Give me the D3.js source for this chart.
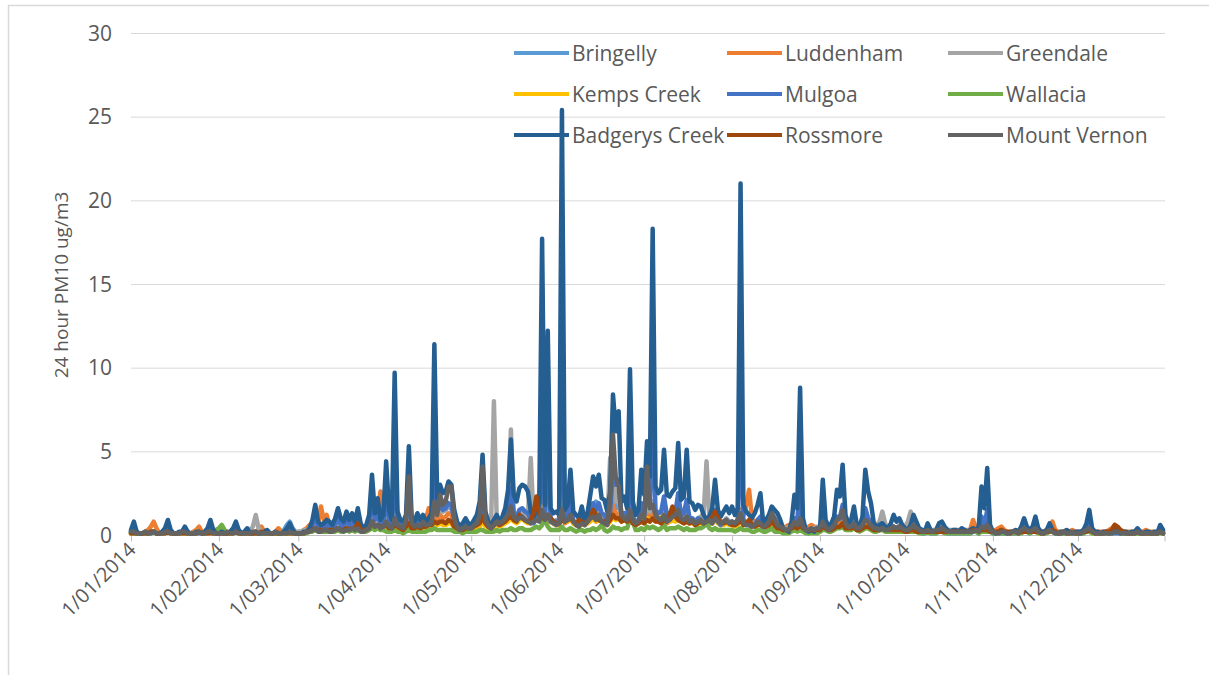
<!DOCTYPE html>
<html>
<head>
<meta charset="utf-8">
<script src="https://cdn.jsdelivr.net/npm/d3@7"></script>
<style>
  body { margin: 0; background: #fff; }
  svg text { font-family: "Open Sans", sans-serif; fill: #595959; }
</style>
</head>
<body>
<svg id="chart" width="1209" height="675"></svg>
<script>
// Daily 24 hour PM10 (ug/m3), 2014 — one row per month (Jan..Dec)
const stations = ["Bringelly", "Luddenham", "Greendale", "Kemps Creek", "Mulgoa",
                  "Wallacia", "Badgerys Creek", "Rossmore", "Mount Vernon"];
const colours = ["#5B9BD5", "#ED7D31", "#A5A5A5", "#FFC000", "#4472C4",
                 "#70AD47", "#255E91", "#9E480E", "#636363"];
const monthLabels = ["1/01/2014", "1/02/2014", "1/03/2014", "1/04/2014", "1/05/2014", "1/06/2014",
                     "1/07/2014", "1/08/2014", "1/09/2014", "1/10/2014", "1/11/2014", "1/12/2014"];
const yTicks = [0, 5, 10, 15, 20, 25, 30];

const bringelly = [
  [0.2,0.3,0.1,0.1,0.1,0.1,0.1,0.2,0.2,0.1,0.1,0.1,0.2,0.4,0.2,0.1,0.1,0.1,0.2,0.3,0.1,0.1,0.1,0.1,0.2,0.1,0.1,0.2,0.4,0.2,0.1],
  [0.1,0.1,0.1,0.1,0.2,0.3,0.5,0.2,0.1,0.1,0.2,0.1,0.1,0.1,0.1,0.1,0.1,0.2,0.1,0.1,0.1,0.1,0.2,0.3,0.6,0.8,0.4,0.2],
  [0.1,0.1,0.2,0.2,0.3,0.6,1.0,0.5,0.4,0.5,0.6,0.5,0.4,0.6,0.9,0.6,0.5,0.8,0.6,0.8,0.5,0.9,0.4,0.3,0.4,0.7,1.8,0.8,1.2,0.7,0.8],
  [1.8,0.8,0.6,2.0,0.7,0.5,0.5,0.7,1.8,0.6,0.5,0.7,0.6,0.8,0.6,0.7,0.8,2.4,1.2,1.6,1.4,1.5,1.7,1.6,0.8,0.4,0.3,0.4,0.5,0.4],
  [0.4,0.5,0.6,0.9,1.8,0.7,0.5,0.4,0.6,0.7,0.6,0.7,0.9,1.2,1.8,1.0,0.9,1.2,1.3,1.1,0.8,0.7,0.9,1.0,0.9,2.5,0.9,2.0,0.8,0.7,0.7],
  [0.7,2.5,0.8,0.9,1.4,0.7,0.6,0.5,0.8,0.6,0.8,1.2,1.5,2.0,1.5,1.2,1.0,0.7,1.3,2.2,1.6,1.8,1.0,1.1,0.8,2.0,0.9,0.7,0.8,1.3],
  [0.9,1.6,1.1,2.0,1.0,0.9,0.9,1.7,0.8,0.9,1.0,1.3,1.1,0.9,0.8,1.1,0.7,0.8,0.7,0.8,0.8,0.7,0.9,0.8,0.7,1.1,0.8,0.6,0.7,0.8,0.7],
  [0.7,0.6,0.8,1.5,0.7,0.6,0.6,0.5,0.6,0.8,0.7,0.5,0.6,0.7,1.0,0.8,0.5,0.4,0.3,0.3,0.3,0.5,0.8,0.6,1.0,0.5,0.3,0.2,0.3,0.3,0.3],
  [0.3,0.8,0.4,0.3,0.3,0.5,0.8,0.7,1.0,0.6,0.4,0.4,0.6,0.4,0.3,0.5,0.8,0.6,0.5,0.3,0.3,0.3,0.4,0.3,0.3,0.3,0.4,0.3,0.4,0.3],
  [0.2,0.2,0.3,0.4,0.3,0.2,0.2,0.2,0.2,0.2,0.2,0.2,0.2,0.3,0.2,0.2,0.2,0.2,0.2,0.2,0.2,0.2,0.2,0.2,0.3,0.3,0.2,0.6,0.8,0.9,0.3],
  [0.2,0.1,0.1,0.2,0.1,0.1,0.1,0.2,0.2,0.1,0.2,0.3,0.3,0.2,0.3,0.4,0.2,0.1,0.1,0.3,0.4,0.2,0.1,0.1,0.1,0.2,0.1,0.1,0.2,0.1],
  [0.1,0.1,0.2,0.4,0.6,0.2,0.1,0.1,0.1,0.1,0.1,0.1,0.1,0.2,0.2,0.1,0.1,0.1,0.1,0.1,0.1,0.2,0.1,0.1,0.1,0.1,0.1,0.1,0.1,0.2,0.1]
];

const luddenham = [
  [0.1,0.2,0.1,0.1,0.1,0.2,0.3,0.5,0.8,0.4,0.1,0.1,0.2,0.4,0.2,0.1,0.1,0.1,0.2,0.2,0.1,0.1,0.2,0.3,0.5,0.2,0.1,0.1,0.2,0.1,0.1],
  [0.2,0.5,0.2,0.1,0.1,0.2,0.2,0.1,0.1,0.1,0.1,0.1,0.2,0.2,0.3,0.5,0.2,0.1,0.1,0.1,0.2,0.4,0.2,0.1,0.1,0.1,0.2,0.1],
  [0.2,0.2,0.3,0.4,0.6,0.5,0.9,0.7,1.7,0.9,1.2,0.6,0.5,0.6,0.9,0.7,0.6,0.8,0.6,0.7,0.6,0.8,0.5,0.4,0.5,0.8,1.5,0.9,1.4,2.6,1.0],
  [1.2,0.8,0.6,1.0,0.7,0.6,0.5,0.7,1.3,0.6,0.5,0.7,0.6,0.8,0.9,1.6,0.8,1.5,0.9,1.2,1.0,1.1,1.3,1.2,0.7,0.4,0.3,0.4,0.6,0.5],
  [0.4,0.5,0.6,0.9,1.6,0.7,0.5,0.4,0.7,0.8,0.6,0.7,0.8,1.0,1.4,0.9,0.8,1.0,1.1,0.9,0.8,0.7,0.9,1.1,0.9,1.3,0.9,1.0,0.8,0.7,0.6],
  [0.6,1.2,0.7,0.8,1.3,0.7,0.6,0.5,0.7,0.6,0.7,0.9,1.0,0.8,1.0,0.8,0.7,0.6,1.2,1.8,1.2,1.3,0.9,1.0,0.8,1.4,0.8,0.6,0.7,1.0],
  [0.8,1.4,0.9,1.5,0.9,0.8,0.8,1.0,0.7,0.8,0.9,1.0,1.2,0.8,0.8,1.0,0.7,0.8,0.6,0.7,0.8,0.7,0.9,0.8,0.7,1.0,0.8,0.6,0.7,0.8,0.7],
  [0.8,0.7,0.9,1.5,1.2,1.8,2.7,1.0,0.7,0.8,0.9,0.6,0.6,0.8,1.2,0.9,0.6,0.5,0.4,0.5,0.6,0.4,0.7,0.6,0.9,0.5,0.4,0.5,0.6,0.5,0.4],
  [0.4,0.7,0.5,0.4,0.4,0.6,0.8,0.8,1.0,0.6,0.5,0.5,0.7,0.5,0.4,0.6,0.8,0.7,0.5,0.4,0.5,0.6,0.7,0.5,0.4,0.4,0.5,0.4,0.5,0.4],
  [0.2,0.2,0.3,0.4,0.3,0.2,0.2,0.2,0.2,0.2,0.2,0.2,0.2,0.3,0.2,0.2,0.2,0.2,0.2,0.2,0.2,0.2,0.2,0.3,0.9,0.4,0.3,0.3,0.5,0.4,0.3],
  [0.2,0.3,0.4,0.5,0.3,0.2,0.2,0.2,0.2,0.2,0.2,0.3,0.3,0.2,0.3,0.4,0.3,0.2,0.2,0.3,0.4,0.8,0.3,0.2,0.2,0.2,0.2,0.2,0.3,0.2],
  [0.2,0.2,0.3,0.4,0.5,0.3,0.2,0.2,0.2,0.2,0.2,0.3,0.4,0.6,0.4,0.3,0.2,0.2,0.2,0.2,0.2,0.2,0.2,0.2,0.3,0.2,0.2,0.2,0.2,0.3,0.2]
];

const greendale = [
  [0.1,0.2,0.1,0.1,0.1,0.1,0.1,0.2,0.2,0.1,0.1,0.1,0.2,0.3,0.1,0.1,0.1,0.1,0.2,0.2,0.1,0.1,0.1,0.2,0.2,0.1,0.1,0.2,0.3,0.1,0.1],
  [0.1,0.1,0.1,0.2,0.1,0.2,0.3,0.1,0.1,0.1,0.2,0.3,0.5,1.2,0.4,0.2,0.1,0.1,0.1,0.1,0.2,0.1,0.1,0.2,0.2,0.3,0.2,0.1],
  [0.2,0.2,0.3,0.3,0.4,0.6,0.9,0.5,0.4,0.5,0.6,0.5,0.5,0.6,0.8,0.6,0.5,0.7,0.6,0.7,0.5,0.8,0.5,0.4,0.5,0.7,1.5,0.8,1.0,0.7,0.8],
  [1.2,0.7,0.6,2.5,0.8,0.6,0.6,0.8,2.0,0.7,0.6,0.7,0.6,0.9,0.7,0.8,0.9,2.5,1.2,1.6,1.4,1.5,1.8,1.7,0.9,0.6,0.4,0.5,0.6,0.5],
  [0.5,0.7,0.8,1.0,2.5,0.9,0.6,0.5,8.0,0.9,0.7,0.8,1.0,1.4,6.3,1.2,1.0,1.3,1.4,1.2,1.0,4.6,0.9,1.0,1.1,2.5,3.2,2.0,1.0,0.8,0.9],
  [0.8,1.4,0.9,1.0,1.6,0.9,0.7,0.6,0.8,0.7,0.9,1.1,1.2,1.0,1.3,0.9,0.8,0.7,4.6,3.5,2.0,2.2,1.0,1.2,0.9,2.0,1.0,0.8,0.9,1.5],
  [1.0,2.0,1.4,2.0,1.1,1.0,0.9,1.5,0.8,0.9,1.0,1.3,1.6,1.0,0.9,1.3,0.8,0.9,0.8,1.0,1.1,1.3,4.4,1.0,0.8,1.2,0.9,0.7,0.8,1.0,0.8],
  [0.8,0.7,0.9,1.4,0.8,0.7,0.6,0.6,0.7,0.9,0.8,0.6,0.7,0.9,1.4,1.0,0.7,0.5,0.4,0.4,0.3,0.6,0.9,0.7,1.2,0.6,0.4,0.3,0.4,0.4,0.5],
  [0.4,0.9,0.5,0.4,0.5,0.7,1.0,1.0,1.3,0.8,0.6,0.6,0.8,0.5,0.5,0.7,1.0,0.9,0.7,0.5,0.6,0.8,1.4,0.7,0.4,0.4,0.5,0.4,0.6,0.5],
  [0.5,0.8,1.4,0.7,0.5,0.3,0.3,0.3,0.4,0.3,0.3,0.3,0.4,0.5,0.4,0.3,0.3,0.3,0.3,0.3,0.3,0.3,0.3,0.3,0.3,0.3,0.3,0.4,0.4,0.7,0.4],
  [0.2,0.1,0.1,0.2,0.1,0.1,0.1,0.2,0.2,0.1,0.2,0.4,0.3,0.2,0.3,0.4,0.2,0.1,0.1,0.2,0.3,0.2,0.1,0.1,0.1,0.2,0.1,0.1,0.2,0.1],
  [0.1,0.1,0.2,0.3,0.4,0.2,0.1,0.1,0.1,0.1,0.1,0.1,0.1,0.2,0.2,0.1,0.1,0.1,0.1,0.1,0.1,0.2,0.1,0.1,0.1,0.1,0.1,0.1,0.1,0.2,0.1]
];

const kempsCreek = [
  [0.1,0.2,0.1,0.1,0.1,0.1,0.1,0.2,0.2,0.1,0.1,0.1,0.2,0.2,0.1,0.1,0.1,0.1,0.2,0.2,0.1,0.1,0.1,0.2,0.2,0.1,0.1,0.2,0.2,0.1,0.1],
  [0.1,0.1,0.1,0.1,0.1,0.1,0.2,0.1,0.1,0.1,0.1,0.1,0.1,0.1,0.1,0.1,0.1,0.1,0.1,0.1,0.1,0.1,0.1,0.1,0.1,0.2,0.1,0.1],
  [0.1,0.1,0.1,0.2,0.2,0.3,0.4,0.3,0.3,0.3,0.3,0.3,0.3,0.3,0.4,0.3,0.3,0.4,0.3,0.4,0.3,0.4,0.3,0.3,0.3,0.4,0.6,0.4,0.5,0.5,0.4],
  [0.5,0.4,0.3,0.6,0.4,0.3,0.3,0.4,0.6,0.3,0.3,0.4,0.3,0.4,0.4,0.5,0.5,0.7,0.6,0.7,0.6,0.6,0.7,0.7,0.4,0.3,0.3,0.3,0.3,0.3],
  [0.3,0.4,0.4,0.5,0.8,0.5,0.4,0.3,0.5,0.6,0.5,0.6,0.7,0.8,1.0,0.8,0.7,0.9,1.0,0.8,0.7,0.8,0.9,1.2,1.3,1.7,1.5,1.0,0.8,0.7,0.6],
  [0.8,3.0,0.8,0.8,1.0,0.7,0.6,0.7,0.7,0.6,0.7,0.8,1.0,0.8,0.9,0.8,0.7,0.6,0.8,1.1,0.9,1.0,0.8,1.0,0.9,2.3,0.8,0.6,0.7,0.9],
  [0.7,1.0,0.8,1.0,0.8,0.8,0.9,1.3,0.8,0.8,0.9,0.8,0.9,0.8,0.7,0.8,0.7,0.7,0.6,0.7,0.7,0.6,0.8,0.7,0.7,0.9,0.7,0.6,0.6,0.7,0.6],
  [0.6,0.5,0.6,0.8,0.6,0.6,0.7,0.5,0.5,0.6,0.6,0.4,0.5,0.6,0.7,0.5,0.4,0.3,0.3,0.3,0.3,0.4,0.5,0.4,0.6,0.4,0.3,0.3,0.3,0.3,0.3],
  [0.3,0.4,0.3,0.3,0.3,0.4,0.5,0.5,0.6,0.4,0.3,0.4,0.4,0.3,0.3,0.4,0.5,0.4,0.4,0.3,0.3,0.3,0.4,0.3,0.3,0.3,0.3,0.3,0.3,0.3],
  [0.2,0.2,0.2,0.3,0.2,0.2,0.2,0.2,0.2,0.2,0.2,0.2,0.2,0.2,0.2,0.2,0.2,0.2,0.2,0.2,0.2,0.2,0.2,0.2,0.2,0.2,0.3,0.4,0.5,0.3,0.2],
  [0.2,0.1,0.1,0.2,0.1,0.1,0.1,0.2,0.2,0.1,0.2,0.2,0.2,0.2,0.2,0.2,0.1,0.1,0.1,0.2,0.2,0.2,0.1,0.1,0.1,0.2,0.1,0.1,0.2,0.1],
  [0.1,0.1,0.2,0.2,0.2,0.1,0.1,0.1,0.1,0.1,0.1,0.1,0.1,0.2,0.2,0.1,0.1,0.1,0.1,0.1,0.1,0.1,0.1,0.1,0.1,0.1,0.1,0.1,0.1,0.2,0.1]
];

const mulgoa = [
  [0.2,0.4,0.1,0.1,0.1,0.1,0.1,0.1,0.2,0.1,0.1,0.1,0.2,0.5,0.2,0.1,0.1,0.1,0.2,0.3,0.1,0.1,0.1,0.1,0.1,0.1,0.1,0.2,0.5,0.2,0.1],
  [0.1,0.1,0.1,0.1,0.2,0.3,0.5,0.2,0.1,0.1,0.2,0.1,0.1,0.1,0.1,0.1,0.1,0.2,0.1,0.1,0.1,0.1,0.1,0.2,0.3,0.4,0.2,0.1],
  [0.1,0.1,0.1,0.2,0.3,0.6,1.1,0.5,0.4,0.5,0.6,0.5,0.4,0.6,1.0,0.6,0.5,0.9,0.6,0.8,0.5,1.0,0.4,0.3,0.4,0.8,2.2,0.9,1.4,0.6,0.8],
  [2.4,0.9,0.6,4.5,0.8,0.6,0.5,0.7,2.8,0.6,0.5,0.8,0.7,0.8,0.6,0.7,0.9,5.2,1.4,1.8,1.5,1.6,1.9,1.8,0.9,0.4,0.3,0.5,0.6,0.4],
  [0.4,0.6,0.7,1.1,2.6,0.8,0.5,0.4,0.6,0.7,0.6,0.7,0.9,1.4,2.8,1.3,1.1,1.5,1.6,1.4,1.3,0.9,0.7,1.0,1.2,7.5,1.1,5.6,1.0,0.8,0.8],
  [0.8,9.5,1.0,1.1,2.0,0.8,0.7,0.6,1.0,0.6,0.8,1.3,1.9,1.5,1.9,1.3,1.2,0.8,1.4,4.0,3.0,3.3,1.1,1.3,0.9,4.2,1.1,0.7,0.8,1.9],
  [1.2,2.5,1.7,7.0,1.5,1.3,1.4,2.3,1.2,1.3,1.3,1.3,2.5,1.2,1.3,2.1,1.0,1.0,0.8,1.0,0.9,0.7,0.6,0.7,0.9,1.5,0.8,0.6,0.8,0.9,0.7],
  [0.8,0.6,0.8,8.0,0.9,0.7,0.6,0.5,0.6,0.9,1.1,0.4,0.5,0.7,0.9,0.8,0.6,0.4,0.2,0.2,0.2,0.4,1.0,0.8,3.5,0.5,0.2,0.1,0.2,0.2,0.2],
  [0.2,1.4,0.5,0.3,0.4,0.5,1.1,1.0,1.8,0.6,0.4,0.4,0.7,0.3,0.3,0.5,1.6,1.0,0.8,0.4,0.3,0.3,0.4,0.3,0.3,0.3,0.5,0.4,0.5,0.3],
  [0.2,0.2,0.3,0.5,0.4,0.2,0.1,0.1,0.3,0.1,0.1,0.1,0.3,0.4,0.2,0.1,0.1,0.1,0.1,0.1,0.1,0.1,0.1,0.1,0.2,0.2,0.1,1.1,0.5,1.5,0.2],
  [0.1,0.1,0.1,0.1,0.1,0.1,0.1,0.1,0.1,0.2,0.3,0.4,0.2,0.1,0.2,0.4,0.2,0.1,0.1,0.2,0.3,0.2,0.1,0.1,0.1,0.1,0.1,0.1,0.1,0.1],
  [0.1,0.1,0.1,0.3,0.6,0.2,0.1,0.1,0.1,0.1,0.1,0.1,0.1,0.1,0.1,0.1,0.1,0.1,0.1,0.1,0.1,0.1,0.1,0.1,0.1,0.1,0.1,0.1,0.1,0.2,0.1]
];

const wallacia = [
  [0.1,0.1,0.1,0.1,0.1,0.1,0.1,0.1,0.2,0.1,0.1,0.1,0.1,0.2,0.1,0.1,0.1,0.1,0.1,0.1,0.1,0.1,0.1,0.1,0.2,0.1,0.1,0.1,0.2,0.2,0.3],
  [0.4,0.6,0.3,0.1,0.1,0.1,0.2,0.1,0.1,0.1,0.1,0.1,0.1,0.1,0.1,0.1,0.1,0.1,0.1,0.1,0.1,0.1,0.1,0.1,0.1,0.1,0.1,0.1],
  [0.1,0.1,0.1,0.1,0.2,0.2,0.3,0.2,0.2,0.2,0.2,0.2,0.2,0.2,0.3,0.2,0.2,0.3,0.2,0.3,0.2,0.3,0.2,0.2,0.2,0.3,0.4,0.3,0.4,0.3,0.3],
  [0.2,0.2,0.2,0.3,0.2,0.2,0.1,0.2,0.3,0.2,0.2,0.2,0.2,0.2,0.2,0.3,0.3,0.4,0.3,0.3,0.3,0.3,0.3,0.3,0.2,0.2,0.2,0.1,0.2,0.2],
  [0.2,0.2,0.2,0.3,0.3,0.2,0.2,0.2,0.2,0.3,0.2,0.3,0.3,0.3,0.4,0.3,0.3,0.4,0.4,0.3,0.3,0.3,0.4,0.5,0.4,0.6,0.9,0.5,0.3,0.3,0.3],
  [0.3,0.5,0.3,0.3,0.4,0.3,0.2,0.3,0.3,0.2,0.3,0.3,0.4,0.3,0.4,0.6,0.3,0.2,0.3,0.5,0.4,0.4,0.3,0.4,0.4,1.0,0.8,0.3,0.3,0.4],
  [0.3,0.5,0.4,0.5,0.4,0.3,0.4,0.6,0.3,0.4,0.4,0.4,0.5,0.4,0.3,0.4,0.3,0.3,0.3,0.4,0.4,0.5,0.8,0.4,0.3,0.4,0.3,0.3,0.3,0.3,0.3],
  [0.3,0.2,0.3,0.4,0.3,0.3,0.3,0.2,0.2,0.3,0.3,0.2,0.2,0.3,0.4,0.2,0.2,0.2,0.1,0.1,0.1,0.2,0.3,0.2,0.3,0.2,0.1,0.1,0.1,0.1,0.1],
  [0.2,0.3,0.3,0.2,0.2,0.3,0.4,0.4,0.5,0.3,0.3,0.3,0.4,0.3,0.2,0.3,0.4,0.4,0.3,0.2,0.2,0.3,0.3,0.2,0.2,0.2,0.2,0.2,0.2,0.2],
  [0.2,0.2,0.2,0.2,0.2,0.1,0.1,0.1,0.2,0.1,0.1,0.1,0.2,0.2,0.1,0.1,0.1,0.1,0.1,0.1,0.1,0.1,0.1,0.1,0.2,0.2,0.1,0.2,0.2,0.2,0.2],
  [0.1,0.1,0.1,0.1,0.1,0.1,0.1,0.1,0.1,0.1,0.1,0.2,0.2,0.1,0.2,0.2,0.1,0.1,0.1,0.1,0.2,0.2,0.1,0.1,0.1,0.1,0.1,0.1,0.1,0.1],
  [0.1,0.1,0.1,0.2,0.2,0.1,0.1,0.1,0.1,0.1,0.1,0.1,0.2,0.3,0.2,0.1,0.1,0.1,0.1,0.1,0.1,0.1,0.1,0.1,0.1,0.1,0.1,0.1,0.1,0.1,0.1]
];

const badgerysCreek = [
  [0.3,0.8,0.2,0.1,0.1,0.2,0.1,0.2,0.2,0.1,0.1,0.2,0.4,0.9,0.3,0.1,0.1,0.2,0.2,0.5,0.2,0.1,0.1,0.2,0.2,0.1,0.2,0.4,0.9,0.3,0.1],
  [0.1,0.2,0.1,0.1,0.2,0.4,0.8,0.3,0.1,0.2,0.4,0.1,0.1,0.2,0.1,0.1,0.2,0.3,0.1,0.1,0.2,0.1,0.1,0.2,0.4,0.7,0.3,0.1],
  [0.1,0.1,0.2,0.2,0.4,0.9,1.8,0.8,0.6,0.7,0.9,0.8,0.6,1.0,1.6,1.0,0.8,1.4,0.9,1.3,0.8,1.6,0.7,0.4,0.6,1.2,3.6,1.3,2.2,0.9,1.2],
  [4.4,1.5,0.9,9.7,1.4,0.9,0.8,1.2,5.3,1.0,0.8,1.3,0.9,1.2,0.8,1.0,1.3,11.4,2.2,3.0,2.5,2.6,3.2,3.0,1.5,0.8,0.5,0.7,1.0,0.7],
  [0.6,0.9,1.2,2.0,4.8,1.4,0.8,0.6,0.9,1.2,0.8,1.1,1.6,2.7,5.7,2.4,2.0,2.8,3.0,2.9,2.6,1.4,1.1,1.5,1.9,17.7,1.8,12.2,1.6,1.3,1.4],
  [1.2,25.4,1.5,1.8,3.9,1.4,1.2,1.0,1.7,0.9,1.3,2.4,3.5,2.9,3.6,2.2,2.1,1.4,2.6,8.4,6.2,7.4,2.0,2.3,1.6,9.9,2.0,1.2,1.5,3.9],
  [2.4,5.6,3.5,18.3,2.9,2.5,2.7,5.1,2.4,2.3,2.6,2.8,5.5,2.1,2.3,5.1,2.0,1.9,1.5,1.8,1.7,1.2,0.9,1.1,1.6,3.3,1.5,1.1,1.4,1.7,1.3],
  [1.7,1.2,1.6,21.0,1.8,1.4,1.2,1.0,1.3,1.8,2.5,0.7,0.9,1.2,1.7,1.5,1.3,0.9,0.4,0.3,0.2,0.8,2.4,1.6,8.8,1.0,0.3,0.2,0.3,0.2,0.4],
  [0.3,3.3,0.9,0.5,0.7,1.1,2.7,2.3,4.2,1.2,0.7,0.9,1.7,0.6,0.5,1.1,3.9,2.6,1.9,0.7,0.5,0.6,0.7,0.5,0.4,0.7,1.2,0.8,1.0,0.6],
  [0.4,0.3,0.6,1.2,0.8,0.4,0.3,0.2,0.7,0.3,0.2,0.3,0.7,0.8,0.5,0.3,0.2,0.3,0.3,0.2,0.4,0.3,0.2,0.3,0.4,0.3,0.5,2.9,1.6,4.0,0.6],
  [0.2,0.1,0.2,0.3,0.2,0.1,0.2,0.2,0.3,0.2,0.5,1.0,0.5,0.3,0.5,1.1,0.4,0.2,0.2,0.3,0.7,0.3,0.2,0.1,0.2,0.2,0.3,0.2,0.1,0.2],
  [0.2,0.2,0.3,0.7,1.5,0.4,0.2,0.2,0.1,0.2,0.2,0.1,0.2,0.3,0.2,0.1,0.2,0.2,0.1,0.2,0.2,0.4,0.2,0.1,0.2,0.2,0.1,0.2,0.1,0.6,0.3]
];

const rossmore = [
  [0.1,0.1,0.1,0.1,0.1,0.1,0.1,0.2,0.2,0.1,0.1,0.1,0.1,0.2,0.1,0.1,0.1,0.1,0.1,0.1,0.1,0.1,0.1,0.1,0.2,0.1,0.1,0.1,0.1,0.1,0.1],
  [0.1,0.1,0.1,0.1,0.1,0.1,0.2,0.1,0.1,0.1,0.1,0.1,0.1,0.1,0.1,0.2,0.1,0.1,0.1,0.1,0.1,0.1,0.1,0.1,0.1,0.1,0.1,0.1],
  [0.1,0.1,0.1,0.2,0.2,0.3,0.4,0.3,0.3,0.3,0.3,0.3,0.3,0.3,0.4,0.3,0.3,0.4,0.3,0.4,0.4,0.7,0.3,0.3,0.3,0.4,0.8,0.5,0.6,0.5,0.5],
  [0.6,0.4,0.4,0.6,0.5,0.4,0.3,0.5,0.7,0.4,0.4,0.5,0.4,0.5,0.5,0.6,0.6,0.8,0.7,0.8,0.8,0.7,0.9,0.8,0.5,0.4,0.3,0.3,0.4,0.4],
  [0.4,0.5,0.6,0.7,1.1,0.7,0.5,0.4,0.6,0.8,0.6,0.7,0.8,1.0,1.1,0.9,0.8,1.2,1.0,0.9,0.8,0.9,1.3,2.3,1.2,1.0,1.1,1.2,1.0,0.8,0.7],
  [0.7,0.9,0.8,0.9,1.0,0.8,0.7,0.9,0.8,0.7,0.8,1.0,1.5,1.2,0.9,0.8,0.8,0.7,0.9,1.2,1.0,1.0,0.8,0.9,0.8,1.0,0.7,0.6,0.7,0.8],
  [0.7,0.9,0.8,1.0,0.8,0.8,0.7,0.9,0.8,1.2,1.7,1.1,0.9,0.8,0.7,0.8,0.7,0.8,0.6,0.7,0.8,0.7,0.8,0.9,1.1,1.4,1.0,0.8,0.7,0.8,0.7],
  [0.6,0.6,0.7,0.9,0.6,0.7,0.9,0.6,0.5,0.6,0.6,0.5,0.5,0.6,0.8,0.6,0.4,0.4,0.3,0.3,0.3,0.4,0.5,0.4,0.6,0.4,0.3,0.3,0.3,0.3,0.3],
  [0.3,0.5,0.4,0.3,0.3,0.4,0.5,0.5,0.7,0.4,0.4,0.4,0.5,0.3,0.3,0.4,0.5,0.5,0.4,0.3,0.3,0.3,0.4,0.3,0.3,0.3,0.3,0.3,0.3,0.3],
  [0.2,0.2,0.3,0.3,0.2,0.2,0.2,0.2,0.2,0.2,0.2,0.2,0.2,0.2,0.2,0.2,0.2,0.2,0.2,0.2,0.2,0.2,0.2,0.2,0.3,0.3,0.2,0.3,0.3,0.3,0.2],
  [0.2,0.2,0.2,0.3,0.2,0.2,0.1,0.2,0.2,0.1,0.2,0.2,0.2,0.2,0.2,0.2,0.2,0.1,0.1,0.2,0.2,0.3,0.2,0.1,0.1,0.2,0.1,0.1,0.2,0.1],
  [0.1,0.1,0.2,0.2,0.3,0.2,0.1,0.1,0.1,0.1,0.2,0.2,0.3,0.6,0.5,0.3,0.2,0.1,0.1,0.1,0.1,0.2,0.1,0.1,0.1,0.1,0.1,0.1,0.1,0.2,0.1]
];

const mountVernon = [
  [0.2,0.2,0.1,0.1,0.1,0.2,0.1,0.1,0.2,0.1,0.1,0.1,0.2,0.2,0.1,0.1,0.1,0.1,0.2,0.2,0.1,0.1,0.1,0.1,0.2,0.1,0.1,0.2,0.2,0.1,0.1],
  [0.1,0.1,0.1,0.2,0.1,0.1,0.2,0.1,0.1,0.1,0.1,0.1,0.2,0.2,0.1,0.1,0.1,0.1,0.1,0.1,0.2,0.1,0.1,0.1,0.1,0.2,0.1,0.1],
  [0.1,0.1,0.1,0.2,0.2,0.3,0.4,0.2,0.2,0.3,0.3,0.2,0.2,0.3,0.4,0.3,0.2,0.3,0.3,0.4,0.3,0.4,0.2,0.2,0.3,0.4,0.8,0.5,0.6,0.4,0.5],
  [0.8,0.5,0.4,1.0,0.6,0.5,0.4,0.9,3.5,0.7,0.5,0.6,0.5,0.8,0.6,0.6,0.7,2.0,1.2,2.4,1.8,2.0,2.9,2.9,1.0,0.5,0.3,0.4,0.5,0.4],
  [0.4,0.6,0.7,1.2,4.1,0.9,0.6,0.4,0.6,0.8,0.7,0.8,1.0,1.2,1.7,1.1,0.9,1.0,1.1,0.9,0.8,0.7,0.8,0.9,0.8,1.5,0.9,1.2,0.8,0.7,0.6],
  [0.7,1.5,0.8,0.9,1.2,0.8,0.6,0.5,0.7,0.6,0.8,1.0,1.1,0.9,1.2,0.8,0.7,0.6,2.2,6.0,3.4,2.9,1.2,1.0,0.9,1.5,0.9,0.7,0.8,1.2],
  [1.0,4.1,1.6,1.8,1.2,1.0,0.9,1.2,0.8,0.9,1.1,1.2,1.5,1.0,0.9,1.1,0.8,0.9,0.7,0.8,0.9,0.7,0.8,0.9,0.7,1.0,0.8,0.7,0.8,0.9,0.7],
  [0.8,0.7,0.9,1.3,0.7,0.6,0.6,0.5,0.6,0.8,0.7,0.5,0.6,0.8,1.3,1.0,0.6,0.5,0.4,0.3,0.3,0.5,0.8,0.6,1.0,0.5,0.3,0.3,0.4,0.3,0.4],
  [0.4,0.8,0.5,0.3,0.4,0.6,0.9,1.0,1.5,0.7,0.5,0.5,0.7,0.4,0.4,0.6,0.9,0.8,0.6,0.4,0.4,0.3,0.4,0.3,0.3,0.4,0.5,0.4,0.5,0.4],
  [0.3,0.3,0.4,0.6,0.4,0.3,0.2,0.2,0.3,0.2,0.2,0.3,0.3,0.4,0.3,0.2,0.2,0.2,0.2,0.2,0.2,0.2,0.2,0.2,0.2,0.3,0.2,0.5,0.4,0.6,0.3],
  [0.2,0.1,0.1,0.2,0.2,0.1,0.1,0.2,0.2,0.1,0.3,0.4,0.3,0.2,0.3,0.4,0.2,0.1,0.1,0.2,0.3,0.2,0.1,0.1,0.1,0.2,0.1,0.1,0.2,0.1],
  [0.1,0.1,0.2,0.3,0.4,0.2,0.1,0.1,0.1,0.1,0.1,0.1,0.1,0.2,0.2,0.1,0.1,0.1,0.1,0.1,0.1,0.2,0.1,0.1,0.1,0.1,0.1,0.1,0.1,0.2,0.1]
];

// ---- layout ----
const W = 1209, H = 675;
const plot = { left: 131, right: 1163, top: 33, bottom: 535 };

const svg = d3.select("#chart");

// chart frame
svg.append("path")
  .attr("d", `M8.5,${H} V5.5 H${W}`)
  .attr("fill", "none").attr("stroke", "#d9d9d9").attr("stroke-width", 1.5);

const start = new Date(2014, 0, 1);
const x = d3.scaleTime()
  .domain([start, new Date(2014, 11, 31)])
  .range([plot.left, plot.right]);
const y = d3.scaleLinear().domain([0, 30]).range([plot.bottom, plot.top]);

// horizontal gridlines
svg.append("g").selectAll("line")
  .data(yTicks.filter(v => v > 0))
  .join("line")
  .attr("x1", plot.left).attr("x2", plot.right + 2)
  .attr("y1", d => y(d) + 0.5).attr("y2", d => y(d) + 0.5)
  .attr("stroke", "#d9d9d9").attr("stroke-width", 1);

// y tick labels
svg.append("g").selectAll("text")
  .data(yTicks)
  .join("text")
  .attr("x", 112).attr("y", d => y(d))
  .attr("dy", "0.36em")
  .attr("text-anchor", "end")
  .style("font-size", "21px")
  .text(d => d);

// y axis title
svg.append("text")
  .attr("transform", "translate(68,285) rotate(-90)")
  .attr("text-anchor", "middle")
  .style("font-size", "19px")
  .text("24 hour PM10 ug/m3");

// x axis with month ticks
const monthStarts = d3.timeMonth.range(start, new Date(2014, 11, 2));
const xAxis = d3.axisBottom(x)
  .tickValues(monthStarts.concat([new Date(2015, 0, 1)]))
  .tickSize(6)
  .tickFormat("");
const axisG = svg.append("g")
  .attr("transform", `translate(0,${plot.bottom + 0.5})`)
  .call(xAxis);
axisG.select(".domain").attr("stroke", "#bfbfbf").attr("d", `M${plot.left},0H${plot.right + 2}`);
axisG.selectAll(".tick line").attr("stroke", "#bfbfbf");
axisG.selectAll(".tick").filter(d => d > new Date(2014, 11, 31))
  .attr("transform", `translate(${plot.right + 2},0)`);

// rotated month labels
svg.append("g").selectAll("text")
  .data(monthStarts)
  .join("text")
  .attr("text-anchor", "end")
  .attr("transform", (d) => `translate(${x(d) + 6},${plot.bottom + 16}) rotate(-45)`)
  .style("font-size", "20px")
  .text((d, i) => monthLabels[i]);

// series lines
const seriesData = [bringelly, luddenham, greendale, kempsCreek, mulgoa,
                    wallacia, badgerysCreek, rossmore, mountVernon].map(m => m.flat());
const line = d3.line()
  .x((d, i) => x(d3.timeDay.offset(start, i)))
  .y(d => y(d));

svg.append("g").selectAll("path")
  .data(seriesData)
  .join("path")
  .attr("d", d => line(d))
  .attr("fill", "none")
  .attr("stroke", (d, i) => colours[i])
  .attr("stroke-width", 4.5)
  .attr("stroke-linejoin", "round")
  .attr("stroke-linecap", "round");

// legend: 3 columns x 3 rows
const legendCols = [572, 785, 1006];
const legendRows = [53, 94, 135];
const legend = svg.append("g").selectAll("g")
  .data(stations)
  .join("g")
  .attr("transform", (d, i) => `translate(${legendCols[i % 3]},${legendRows[Math.floor(i / 3)]})`);
legend.append("line")
  .attr("x1", -58).attr("x2", -3).attr("y1", 0).attr("y2", 0)
  .attr("stroke", (d, i) => colours[i]).attr("stroke-width", 4);
legend.append("text")
  .attr("x", 0).attr("dy", "0.36em")
  .style("font-size", "21px")
  .text(d => d);
</script>
</body>
</html>
